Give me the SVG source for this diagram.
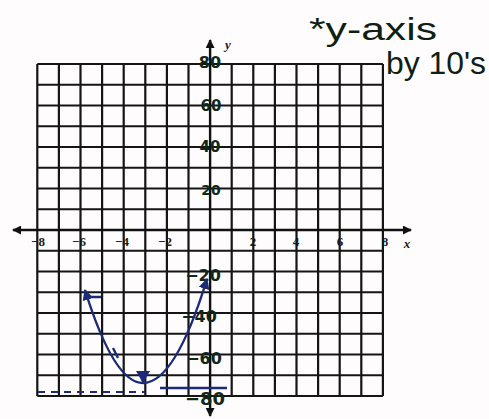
<svg xmlns="http://www.w3.org/2000/svg" width="489" height="419" viewBox="0 0 489 419">
<defs>
<style>
.grid{stroke:#151515;stroke-width:2.2;fill:none}
.axis{stroke:#111;stroke-width:2.4;fill:none}
.tick{font-family:"Liberation Serif",serif;font-weight:bold;font-size:13px;fill:#1a1a1a;text-anchor:middle}
.hand{font-family:"DejaVu Sans","Liberation Sans",sans-serif;font-weight:bold;fill:#10281a}
.note{font-family:"Liberation Sans","DejaVu Sans",sans-serif;fill:#0e1f14;font-size:31px}
.curve{stroke:#1c2a78;stroke-width:2.4;fill:none}
.dash{stroke:#1c2a78;stroke-width:2.2;fill:none;stroke-dasharray:7 6}
</style>
<marker id="ah" viewBox="0 0 10 10" refX="9" refY="5" markerWidth="9" markerHeight="9" markerUnits="userSpaceOnUse" orient="auto-start-reverse">
<path d="M0,0 L10,5 L0,10 z" fill="#111"/>
</marker>
<marker id="bh" viewBox="0 0 10 10" refX="9" refY="5" markerWidth="11" markerHeight="11" markerUnits="userSpaceOnUse" orient="auto-start-reverse">
<path d="M0,0 L10,5 L0,10 z" fill="#1c2a78"/>
</marker>
</defs>
<rect width="489" height="419" fill="#fefcfc"/>
<g id="grid">
<path class="grid" d="M37.3,64V396 M58.9,64V396 M80.5,64V396 M102.1,64V396 M123.7,64V396 M145.3,64V396 M166.9,64V396 M188.5,64V396 M231.7,64V396 M253.3,64V396 M274.9,64V396 M296.5,64V396 M318.1,64V396 M339.7,64V396 M361.3,64V396 M382.9,64V396"/>
<path class="grid" d="M37.3,64H382.9 M37.3,84.75H382.9 M37.3,105.5H382.9 M37.3,126.25H382.9 M37.3,147H382.9 M37.3,167.75H382.9 M37.3,188.5H382.9 M37.3,209.25H382.9 M37.3,250.75H382.9 M37.3,271.5H382.9 M37.3,292.25H382.9 M37.3,313H382.9 M37.3,333.75H382.9 M37.3,354.5H382.9 M37.3,375.25H382.9 M37.3,396H382.9"/>
</g>
<g id="axes">
<line class="axis" x1="13" y1="230" x2="411" y2="230" marker-start="url(#ah)" marker-end="url(#ah)"/>
<line class="axis" x1="210.1" y1="40" x2="210.1" y2="416" marker-start="url(#ah)" marker-end="url(#ah)"/>
</g>
<g id="x-labels">
<text class="tick" x="38" y="246">−8</text>
<text class="tick" x="79" y="246">−6</text>
<text class="tick" x="122" y="246">−4</text>
<text class="tick" x="165" y="246">−2</text>
<text class="tick" x="253" y="246">2</text>
<text class="tick" x="296" y="246">4</text>
<text class="tick" x="340" y="246">6</text>
<text class="tick" x="385" y="246">8</text>
<text class="tick" x="407" y="248" font-style="italic">x</text>
<text class="tick" x="228" y="49" font-style="italic" font-size="12">y</text>
</g>
<g id="y-labels">
<text class="hand" x="210" y="68" font-size="16" text-anchor="middle">80</text>
<text class="hand" x="211" y="111" font-size="15" text-anchor="middle">60</text>
<text class="hand" x="210" y="152" font-size="15" text-anchor="middle">40</text>
<text class="hand" x="211" y="195" font-size="14" text-anchor="middle">20</text>
<text class="hand" x="203" y="281" font-size="16" text-anchor="middle">−20</text>
<text class="hand" x="199" y="322" font-size="16" text-anchor="middle">−40</text>
<text class="hand" x="204" y="364" font-size="16" text-anchor="middle">−60</text>
<text class="hand" x="205" y="405" font-size="18" text-anchor="middle">−80</text>
</g>
<g id="note">
<text class="note" x="309" y="40" textLength="128" lengthAdjust="spacingAndGlyphs">*y-axis</text>
<text class="note" x="386" y="74" textLength="100" lengthAdjust="spacingAndGlyphs">by 10's</text>
</g>
<g id="connectors">
<path class="curve" d="M85,290 Q114,383 143,383 Q175,383 207,279" marker-start="url(#bh)" marker-end="url(#bh)"/>
<path class="curve" d="M91,297 H101 M113,348 L118,358"/>
<path d="M136,371 H150 L146,378 L143,384 L140,378 z" fill="#1c2a78"/>
<path class="dash" d="M38,392 H145"/>
<path class="curve" d="M160,388 H227"/>
</g>
</svg>
